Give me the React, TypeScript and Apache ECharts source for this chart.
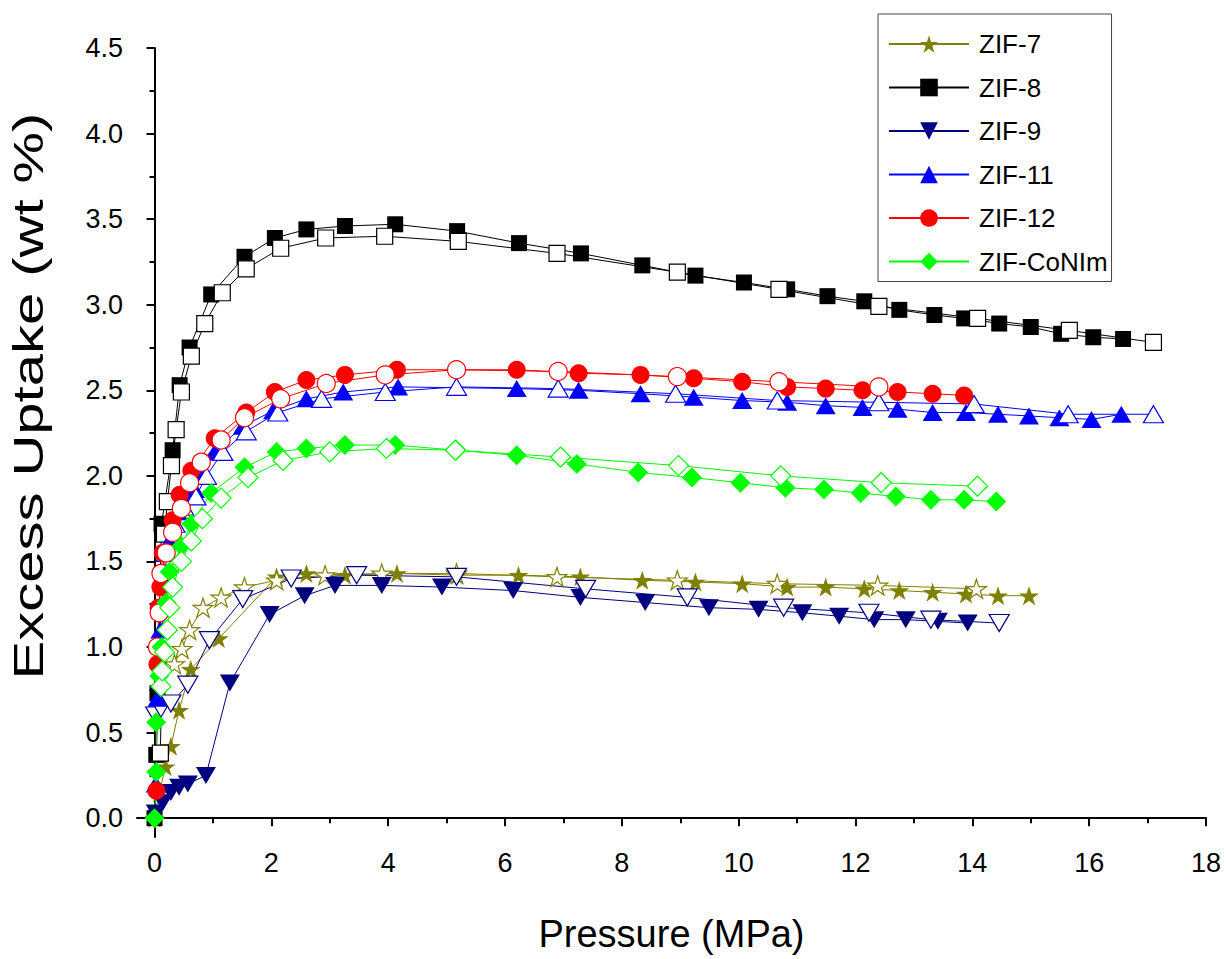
import React, { useEffect, useRef } from "react";
import * as echarts from "echarts";

// ---- Data: [pressure (MPa), excess uptake (wt %)] ----
const zif7Ads = [[0,0],[0.08,0.15],[0.19,0.30],[0.28,0.42],[0.42,0.63],[0.62,0.87],[1.1,1.05],[2.09,1.41],[2.6,1.43],[3.26,1.42],[4.15,1.43],[5.18,1.42],[6.23,1.42],[7.29,1.41],[8.35,1.39],[9.26,1.38],[10.06,1.37],[10.83,1.35],[11.49,1.35],[12.15,1.34],[12.75,1.33],[13.32,1.32],[13.89,1.31],[14.44,1.30],[14.97,1.30]];
const zif7Des = [[0.34,0.9],[0.47,0.99],[0.6,1.1],[0.83,1.23],[1.14,1.29],[1.54,1.35],[2.09,1.39],[2.92,1.42],[3.89,1.43],[5.17,1.43],[6.89,1.41],[8.95,1.39],[10.66,1.37],[12.38,1.36],[14.07,1.34]];

const zif8Ads = [[0,0],[0.03,0.37],[0.05,0.73],[0.12,1.72],[0.31,2.15],[0.43,2.53],[0.6,2.75],[0.97,3.06],[1.54,3.28],[2.06,3.39],[2.6,3.44],[3.26,3.46],[4.12,3.47],[5.18,3.43],[6.24,3.36],[7.3,3.3],[8.35,3.23],[9.26,3.17],[10.09,3.13],[10.83,3.09],[11.52,3.05],[12.15,3.02],[12.75,2.97],[13.35,2.94],[13.86,2.92],[14.46,2.89],[15.0,2.87],[15.52,2.83],[16.07,2.81],[16.58,2.8]];
const zif8Des = [[0.1,0.38],[0.17,1.66],[0.22,1.85],[0.29,2.06],[0.37,2.27],[0.46,2.49],[0.63,2.70],[0.86,2.89],[1.16,3.07],[1.57,3.21],[2.16,3.33],[2.93,3.39],[3.94,3.40],[5.2,3.37],[6.89,3.3],[8.95,3.19],[10.69,3.09],[12.4,2.99],[14.09,2.92],[15.66,2.85],[17.1,2.78]];

const zif9Ads = [[0.02,0.03],[0.14,0.09],[0.28,0.15],[0.42,0.18],[0.57,0.2],[0.88,0.25],[1.29,0.79],[1.97,1.19],[2.57,1.30],[3.09,1.36],[3.89,1.36],[4.92,1.35],[6.14,1.33],[7.29,1.29],[8.4,1.26],[9.49,1.23],[10.34,1.22],[11.09,1.2],[11.72,1.18],[12.32,1.16],[12.86,1.16],[13.41,1.15],[13.92,1.14]];
const zif9Des = [[0.02,0.6],[0.11,0.64],[0.28,0.67],[0.57,0.78],[0.94,1.04],[1.51,1.28],[2.34,1.40],[3.46,1.42],[5.17,1.41],[7.38,1.34],[9.12,1.29],[10.77,1.23],[12.23,1.2],[13.29,1.16],[14.46,1.14]];

const zif11Ads = [[0.02,0.2],[0.05,0.7],[0.1,1.1],[0.16,1.4],[0.25,1.62],[0.4,1.79],[0.55,1.88],[0.69,1.92],[0.8,2.0],[1.03,2.14],[1.51,2.29],[2.03,2.38],[2.6,2.45],[3.23,2.49],[4.17,2.52],[6.2,2.51],[7.26,2.50],[8.32,2.48],[9.23,2.46],[10.06,2.44],[10.83,2.43],[11.49,2.41],[12.12,2.40],[12.72,2.39],[13.32,2.37],[13.89,2.37],[14.44,2.36],[14.97,2.35],[15.49,2.34],[16.04,2.33],[16.55,2.36]];
const zif11Des = [[0.2,1.55],[0.35,1.72],[0.5,1.82],[0.71,1.88],[0.89,2.0],[1.17,2.14],[1.57,2.26],[2.11,2.37],[2.86,2.45],[3.95,2.49],[5.17,2.52],[6.91,2.51],[8.92,2.48],[10.66,2.44],[12.4,2.43],[14.03,2.42],[15.64,2.36],[17.1,2.36]];

const zif12Ads = [[0.03,0.16],[0.05,0.9],[0.07,1.23],[0.1,1.35],[0.14,1.55],[0.31,1.74],[0.43,1.89],[0.63,2.03],[1.03,2.22],[1.57,2.37],[2.06,2.49],[2.6,2.56],[3.26,2.59],[4.15,2.62],[6.2,2.62],[7.26,2.60],[8.32,2.59],[9.23,2.57],[10.06,2.55],[10.83,2.52],[11.49,2.51],[12.12,2.50],[12.72,2.49],[13.32,2.48],[13.86,2.47]];
const zif12Des = [[0.05,1.0],[0.08,1.2],[0.11,1.43],[0.2,1.55],[0.31,1.67],[0.46,1.81],[0.6,1.96],[0.8,2.08],[1.14,2.21],[1.54,2.34],[2.16,2.45],[2.94,2.54],[3.95,2.59],[5.17,2.62],[6.91,2.61],[8.95,2.58],[10.69,2.55],[12.4,2.52]];

const coNImAds = [[0,0],[0.03,0.27],[0.03,0.56],[0.08,0.83],[0.12,1.0],[0.2,1.26],[0.26,1.44],[0.46,1.59],[0.63,1.72],[0.97,1.9],[1.54,2.05],[2.09,2.14],[2.6,2.16],[3.26,2.18],[4.12,2.18],[5.17,2.15],[6.2,2.12],[7.23,2.07],[8.28,2.02],[9.2,1.99],[10.03,1.96],[10.8,1.93],[11.46,1.92],[12.09,1.90],[12.69,1.88],[13.29,1.86],[13.86,1.86],[14.41,1.85]];
const coNImDes = [[0.11,0.77],[0.13,0.86],[0.17,0.97],[0.22,1.1],[0.26,1.23],[0.31,1.35],[0.46,1.5],[0.63,1.62],[0.82,1.75],[1.14,1.87],[1.6,1.99],[2.2,2.09],[3.0,2.14],[3.97,2.16],[5.15,2.15],[6.95,2.11],[8.97,2.06],[10.72,2.0],[12.44,1.96],[14.09,1.94]];

const legendNames = ["ZIF-7", "ZIF-8", "ZIF-9", "ZIF-11", "ZIF-12", "ZIF-CoNIm"];
const xMajorTicks = [0, 2, 4, 6, 8, 10, 12, 14, 16, 18];
const xMinorTicks = [1, 3, 5, 7, 9, 11, 13, 15, 17];
const yMajorTicks = [0, 0.5, 1, 1.5, 2, 2.5, 3, 3.5, 4, 4.5];
const yMinorTicks = [0.25, 0.75, 1.25, 1.75, 2.25, 2.75, 3.25, 3.75, 4.25];
const xTitle = "Pressure (MPa)";
const yTitle = "Excess Uptake (wt %)";

const STAR = "path://M50,0L61.2,34.5L97.6,34.5L68.2,55.9L79.4,90.5L50,69.1L20.6,90.5L31.8,55.9L2.4,34.5L38.8,34.5Z";
const FONT = "'Liberation Sans', Arial, sans-serif";

function mk(name: string, data: number[][], color: string, symbol: string, size: any, filled: boolean, rotate = 0) {
  return {
    type: "line",
    name,
    data,
    symbol,
    symbolSize: size,
    symbolRotate: rotate,
    showSymbol: true,
    clip: false,
    lineStyle: { color, width: 1 },
    itemStyle: filled
      ? { color, borderColor: color, borderWidth: 0 }
      : { color: "#ffffff", borderColor: color, borderWidth: 1.2 },
    emphasis: { disabled: true },
  };
}

export default function App() {
  const ref = useRef<HTMLDivElement>(null);
  useEffect(() => {
    if (!ref.current) return;
    const chart = echarts.init(ref.current, null, { renderer: "svg" });
    const axisLine = { show: true, lineStyle: { color: "#000", width: 2 } };
    chart.setOption({
      animation: false,
      backgroundColor: "#fff",
      grid: { left: 137, right: 22, top: 48, bottom: 122, show: false, outerBoundsMode: "none", containLabel: false },
      legend: {
        data: legendNames,
        orient: "vertical",
        left: 878,
        top: 14,
        padding: [17, 4, 7, 10],
        itemWidth: 80,
        itemHeight: 22,
        itemGap: 17.5,
        borderColor: "#444",
        borderWidth: 1,
        backgroundColor: "#fff",
        textStyle: { fontSize: 26, color: "#000", fontFamily: FONT, padding: [0, 0, 0, 5] },
      },
      graphic: [
        {
          type: "text",
          x: 28,
          y: 396,
          rotation: Math.PI / 2,
          scaleX: 1.38,
          style: {
            text: yTitle,
            fontSize: 42,
            fontFamily: FONT,
            fill: "#000",
            align: "center",
            verticalAlign: "middle",
          },
        },
      ],
      xAxis: [
        {
          type: "value",
          min: -0.3,
          max: 18,
          name: xTitle,
          nameLocation: "middle",
          nameGap: 78,
          nameTextStyle: { fontSize: 38, color: "#000", fontFamily: FONT },
          axisLine,
          splitLine: { show: false },
          axisTick: { show: true, customValues: xMajorTicks, length: 8, lineStyle: { color: "#000", width: 2 } },
          axisLabel: {
            customValues: xMajorTicks,
            fontSize: 27,
            color: "#000",
            fontFamily: FONT,
            margin: 12,
            formatter: (v: number) => String(v),
          },
        },
        {
          type: "value",
          min: -0.3,
          max: 18,
          position: "bottom",
          axisLine: { show: false },
          splitLine: { show: false },
          axisTick: { show: true, customValues: xMinorTicks, length: 5, lineStyle: { color: "#000", width: 2 } },
          axisLabel: { show: false },
        },
      ],
      yAxis: [
        {
          type: "value",
          min: -0.11,
          max: 4.5,
          axisLine,
          splitLine: { show: false },
          axisTick: { show: true, customValues: yMajorTicks, length: 8, lineStyle: { color: "#000", width: 2 } },
          axisLabel: {
            customValues: yMajorTicks,
            fontSize: 27,
            color: "#000",
            fontFamily: FONT,
            margin: 14,
            formatter: (v: number) => v.toFixed(1),
          },
        },
        {
          type: "value",
          min: -0.11,
          max: 4.5,
          position: "left",
          axisLine: { show: false },
          splitLine: { show: false },
          axisTick: { show: true, customValues: yMinorTicks, length: 5, lineStyle: { color: "#000", width: 2 } },
          axisLabel: { show: false },
        },
      ],
      series: [
        mk("ZIF-7", zif7Ads, "#808000", STAR, [20, 19], true),
        mk("ZIF-7 desorption", zif7Des, "#808000", STAR, [20, 19], false),
        mk("ZIF-8", zif8Ads, "#000000", "rect", 16, true),
        mk("ZIF-8 desorption", zif8Des, "#000000", "rect", 16, false),
        mk("ZIF-9", zif9Ads, "#000080", "triangle", [20, 17], true, 180),
        mk("ZIF-9 desorption", zif9Des, "#000080", "triangle", [20, 17], false, 180),
        mk("ZIF-11", zif11Ads, "#0000ff", "triangle", [20, 17], true),
        mk("ZIF-11 desorption", zif11Des, "#0000ff", "triangle", [20, 17], false),
        mk("ZIF-12", zif12Ads, "#ff0000", "circle", 18, true),
        mk("ZIF-12 desorption", zif12Des, "#ff0000", "circle", 18, false),
        mk("ZIF-CoNIm", coNImAds, "#00ff00", "diamond", 20, true),
        mk("ZIF-CoNIm desorption", coNImDes, "#00ff00", "diamond", 20, false),
      ],
    });
    return () => chart.dispose();
  }, []);
  return (
    <div
      ref={ref}
      style={{ position: "fixed", left: 0, top: 0, width: 1228, height: 959, background: "#fff" }}
    />
  );
}
